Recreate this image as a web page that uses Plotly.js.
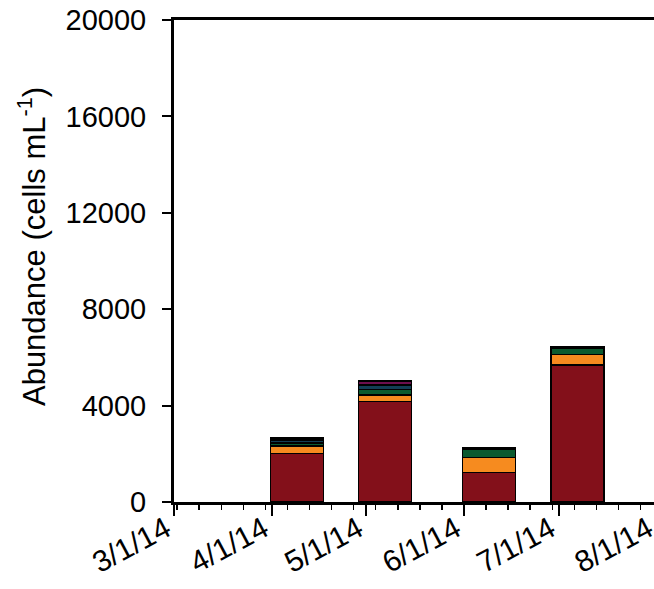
<!DOCTYPE html>
<html>
<head>
<meta charset="utf-8">
<script src="https://cdn.plot.ly/plotly-3.0.1.min.js"></script>
<style>
html, body { margin: 0; padding: 0; overflow: hidden; background: #fff; }
#chart { width: 780px; height: 589px; }
</style>
</head>
<body>
<div id="chart"></div>
<script>
// Sampling dates (bar centres)
var dates = ['2014-04-09', '2014-05-07', '2014-06-09', '2014-07-07'];
// Stacked groups, bottom to top (cells mL^-1)
var seriesRed    = [2020, 4160, 1230, 5690];
var seriesOrange = [300, 280, 620, 440];
var seriesGreen  = [125, 235, 330, 250];
var seriesNavy   = [125, 180, 60, 60];
var seriesPurple = [80, 175, 0, 0];
var seriesNames  = ['Group 1', 'Group 2', 'Group 3', 'Group 4', 'Group 5'];
var seriesColors = ['#83101a', '#f68b1f', '#0b5a2f', '#123e55', '#6c0e4e'];
var seriesData   = [seriesRed, seriesOrange, seriesGreen, seriesNavy, seriesPurple];
var yTitle = 'Abundance (cells mL<sup>-1</sup>)';

var DAY = 86400000;
var barWidth = 16.8 * DAY;

var traces = seriesData.map(function (vals, i) {
  return {
    type: 'bar',
    x: dates,
    y: vals,
    name: seriesNames[i],
    width: dates.map(function () { return barWidth; }),
    marker: { color: seriesColors[i], line: { color: '#000', width: 1.5 } },
    hoverinfo: 'x+y+name'
  };
});

var fontFam = '"Liberation Sans", Arial, sans-serif';

var layout = {
  width: 780,
  height: 589,
  barmode: 'stack',
  showlegend: false,
  paper_bgcolor: '#fff',
  plot_bgcolor: '#fff',
  margin: { l: 174, r: 26, t: 20, b: 87 },
  font: { family: fontFam, size: 29, color: '#000' },
  xaxis: {
    type: 'date',
    range: ['2014-03-01', '2014-09-01'],
    dtick: 'M1',
    tick0: '2014-03-01',
    tickformat: '%-m/%-d/%y',
    tickangle: -28,
    ticks: 'outside',
    ticklen: 11,
    tickwidth: 2,
    tickcolor: '#000',
    ticklabelstandoff: -16,
    ticklabelshift: -8,
    showline: true,
    linecolor: '#000',
    linewidth: 3,
    mirror: true,
    showgrid: false,
    zeroline: false,
    tickfont: { family: fontFam, size: 30, color: '#000' },
    minor: { dtick: 7 * DAY, tick0: '2014-03-02', ticks: 'outside', ticklen: 5, tickwidth: 1.5, tickcolor: '#000', showgrid: false }
  },
  yaxis: {
    range: [0, 20000],
    dtick: 4000,
    tick0: 0,
    tickformat: 'd',
    ticks: 'outside',
    ticklen: 9,
    tickwidth: 2,
    tickcolor: '#000',
    ticklabelstandoff: 10,
    showline: true,
    linecolor: '#000',
    linewidth: 3,
    mirror: true,
    showgrid: false,
    zeroline: false,
    tickfont: { family: fontFam, size: 29, color: '#000' }
  },
  annotations: [{
    text: yTitle,
    textangle: -90,
    xref: 'paper', yref: 'paper',
    x: -0.2448, y: 0.529,
    xanchor: 'center', yanchor: 'middle',
    showarrow: false,
    font: { family: fontFam, size: 31, color: '#000' }
  }]
};

Plotly.newPlot('chart', traces, layout, { displayModeBar: false, staticPlot: true });
</script>
</body>
</html>
